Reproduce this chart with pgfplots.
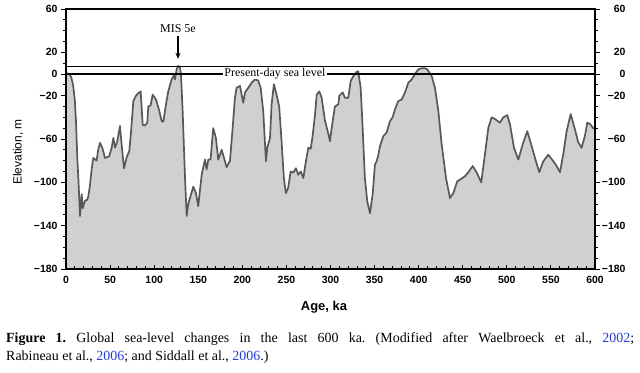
\documentclass[border=0pt]{standalone}
\usepackage{pgfplots}
\pgfplotsset{compat=1.18}
\usepackage{fontspec}
\setmainfont{Liberation Serif}
\setsansfont{Liberation Sans}
\usetikzlibrary{arrows.meta}
\definecolor{fillgray}{RGB}{208,208,208}
\definecolor{linegray}{RGB}{88,88,88}
\definecolor{citeblue}{RGB}{35,60,210}
\begin{document}
\frenchspacing
\begin{tikzpicture}
\useasboundingbox (-66bp,-104bp) rectangle (574bp,269bp);
% main axis: data and x ticks
\begin{axis}[at={(0,0)},anchor=south west,scale only axis,
  width=529bp,height=260bp,
  xmin=0,xmax=600,ymin=-180,ymax=60,
  axis line style={line width=1.1bp},
  xtick={0,50,...,600},minor x tick num=4,xtick pos=bottom,
  tick align=inside,major tick length=4bp,minor tick length=2.5bp,
  tick style={line width=0.9bp,black},
  ytick=\empty,
  /pgf/number format/assume math mode=true,
  xticklabel style={font=\sffamily\bfseries\fontsize{10.5}{12}\selectfont,yshift=-4bp},
  axis on top,clip=false]
\addplot[fill=fillgray,draw=linegray,line width=1.7bp,line join=round] coordinates {
(0,-180) (0,0) (2,0.5) (4,-0.5) (6,-3) (8,-10) (10,-24) (11.3,-43) (12.8,-77) (14,-96)
(15.9,-131) (17.8,-111) (18.9,-124) (21.5,-117) (24.2,-116) (25.3,-113) (27,-104)
(29.1,-88) (31,-77.5) (34.7,-80) (36.6,-69.6) (38.6,-63.6) (41.2,-68) (44.2,-77.5)
(49,-76) (51.8,-68) (53.7,-59) (55.6,-68) (58.2,-62) (61.2,-48) (63.1,-65) (65.8,-87)
(68.8,-77) (71.8,-71) (73.7,-54) (76.4,-25) (79.4,-20) (83.1,-17) (84.7,-16) (87,-47)
(89.6,-47.5) (92.2,-45) (93.4,-30) (96,-29) (98.3,-19) (102,-23.5) (105.5,-33)
(108.5,-43.5) (110.4,-44) (113.4,-28) (116,-16) (119.8,-5) (122.4,-1.5) (123.6,-5)
(125.5,4.3) (127.3,7.4) (129.3,6) (130.4,0) (132.3,-34) (135,-96) (136.9,-131)
(138.7,-120) (140.6,-114.5) (144.4,-104) (147.4,-110) (150,-122) (153.9,-93)
(157.6,-79) (159.5,-88) (161.4,-79) (164,-79) (167,-50) (170,-59) (172.7,-79)
(176.6,-70) (182.2,-86) (186,-80) (189,-50) (191.6,-22) (193.5,-12.7) (197.3,-11)
(201,-26.5) (203,-17) (206.8,-12.7) (210.6,-8) (214.4,-5) (218,-6) (220.8,-12.7)
(223.7,-34) (226.8,-80.5) (228.3,-68) (231.4,-59) (233.2,-28) (235.8,-9.5) (238.8,-19)
(241.8,-30) (244.5,-62) (247.1,-96) (249.4,-110) (252,-105) (254.8,-90) (257.8,-91)
(260.8,-87) (263.4,-93) (266.2,-90) (269.2,-96) (272.2,-80) (274.9,-68) (277.6,-69)
(279.9,-56) (282.5,-37) (284.4,-19) (287.3,-16) (290,-22) (293.7,-43) (297.5,-55)
(299.4,-62) (301.3,-50) (305,-30) (308.9,-28) (310,-20) (313.8,-17) (316.4,-22)
(320.2,-22) (322.9,-6.5) (325.9,-2) (329.7,2) (331.5,2.5) (334.2,-12.7) (336.5,-50)
(339,-96) (341.7,-117.6) (344.8,-128.5) (347.8,-111) (350.4,-83.6) (352.3,-80.5)
(354.2,-75) (356.1,-66.7) (359.9,-57.4) (363.7,-54) (367.5,-43.5) (370.5,-40)
(373.1,-32.7) (376.9,-25) (380.8,-23.5) (384.5,-17) (388.3,-8) (392.1,-5) (395.8,0)
(399.6,4.3) (403.5,5.3) (407.2,5.3) (409.8,4.3) (414.8,-2) (418.5,-12.7) (422.3,-34)
(426.1,-65) (431,-96) (435.5,-114.5) (439.3,-110) (443.8,-99) (446.9,-97.5)
(452.5,-94.4) (457,-90) (461.3,-85) (465.8,-91) (471,-100) (475.2,-74) (479,-49.7)
(482.8,-40) (486.5,-41.5) (492.2,-45) (496,-40) (500.5,-38) (503.6,-46.6) (508.1,-68)
(513,-79) (518,-65) (523.2,-52.8) (528.2,-66.7) (533,-80.5) (536.8,-90.6) (541.4,-80.5)
(547,-74.5) (552.7,-80.5) (556.5,-85) (560.3,-90.6) (564,-74) (567.8,-53) (572.4,-37)
(577.2,-51) (581,-63) (584.8,-68) (588.5,-57.4) (591.2,-45) (594.3,-46) (598,-50)
(600,-51) (600,-180)};
\draw[line width=1.2bp] (axis cs:0,7) -- (axis cs:600,7);
\draw[line width=1.8bp] (axis cs:0,0) -- (axis cs:600,0);
\node[fill=white,inner xsep=1.5bp,inner ysep=0.5bp,font=\fontsize{12}{13}\selectfont] at (axis cs:237,0.5) {Present-day sea level};
\node[font=\fontsize{12}{13}\selectfont] at (axis cs:127,42) {MIS 5e};
\draw[-{Stealth[length=6bp,width=5bp]},line width=1.2bp] (axis cs:127,35) -- (axis cs:127,14);
\end{axis}
% y ticks both sides, labels left
\begin{axis}[at={(0,0)},anchor=south west,scale only axis,
  width=529bp,height=260bp,
  xmin=0,xmax=600,ymin=-180,ymax=60,
  hide x axis,axis line style={line width=1.1bp},
  ytick={-180,-140,-100,-60,-20,0,20,60},
  yticklabels={−180,−140,−100,−60,−20,0,20,60},
  minor ytick={-170,-160,...,50},
  ytick pos=both,yticklabel pos=left,
  tick align=outside,major tick length=5bp,minor tick length=3bp,
  tick style={line width=0.9bp,black},
  yticklabel style={font=\sffamily\bfseries\fontsize{10.5}{12}\selectfont}]
\end{axis}
% right labels
\begin{axis}[at={(0,0)},anchor=south west,scale only axis,
  width=529bp,height=260bp,
  xmin=0,xmax=600,ymin=-180,ymax=60,
  hide x axis,axis line style={draw=none},
  ytick={-180,-140,-100,-60,-20,0,20,60},
  yticklabels={−180,−140,−100,−60,−20,0,20,60},
  ytick pos=right,yticklabel pos=right,
  major tick length=0pt,
  yticklabel style={font=\sffamily\bfseries\fontsize{10.5}{12}\selectfont,text width=25bp,align=right,xshift=2bp}]
\end{axis}
\node[font=\sffamily\bfseries\fontsize{13}{15}\selectfont] at (258bp,-38bp) {Age, ka};
\node[rotate=90,font=\sffamily\fontsize{12}{14}\selectfont] at (-48bp,117bp) {Elevation, m};
\node[anchor=north west,inner sep=0pt,text width=628bp,align=justify,font=\fontsize{14}{19}\selectfont] at (-60bp,-63bp)
{\textbf{Figure 1.} Global sea-level changes in the last 600 ka. (Modified after Waelbroeck et al., \textcolor{citeblue}{2002};\linebreak Rabineau et al., \textcolor{citeblue}{2006}; and Siddall et al., \textcolor{citeblue}{2006}.)};
\end{tikzpicture}
\end{document}
